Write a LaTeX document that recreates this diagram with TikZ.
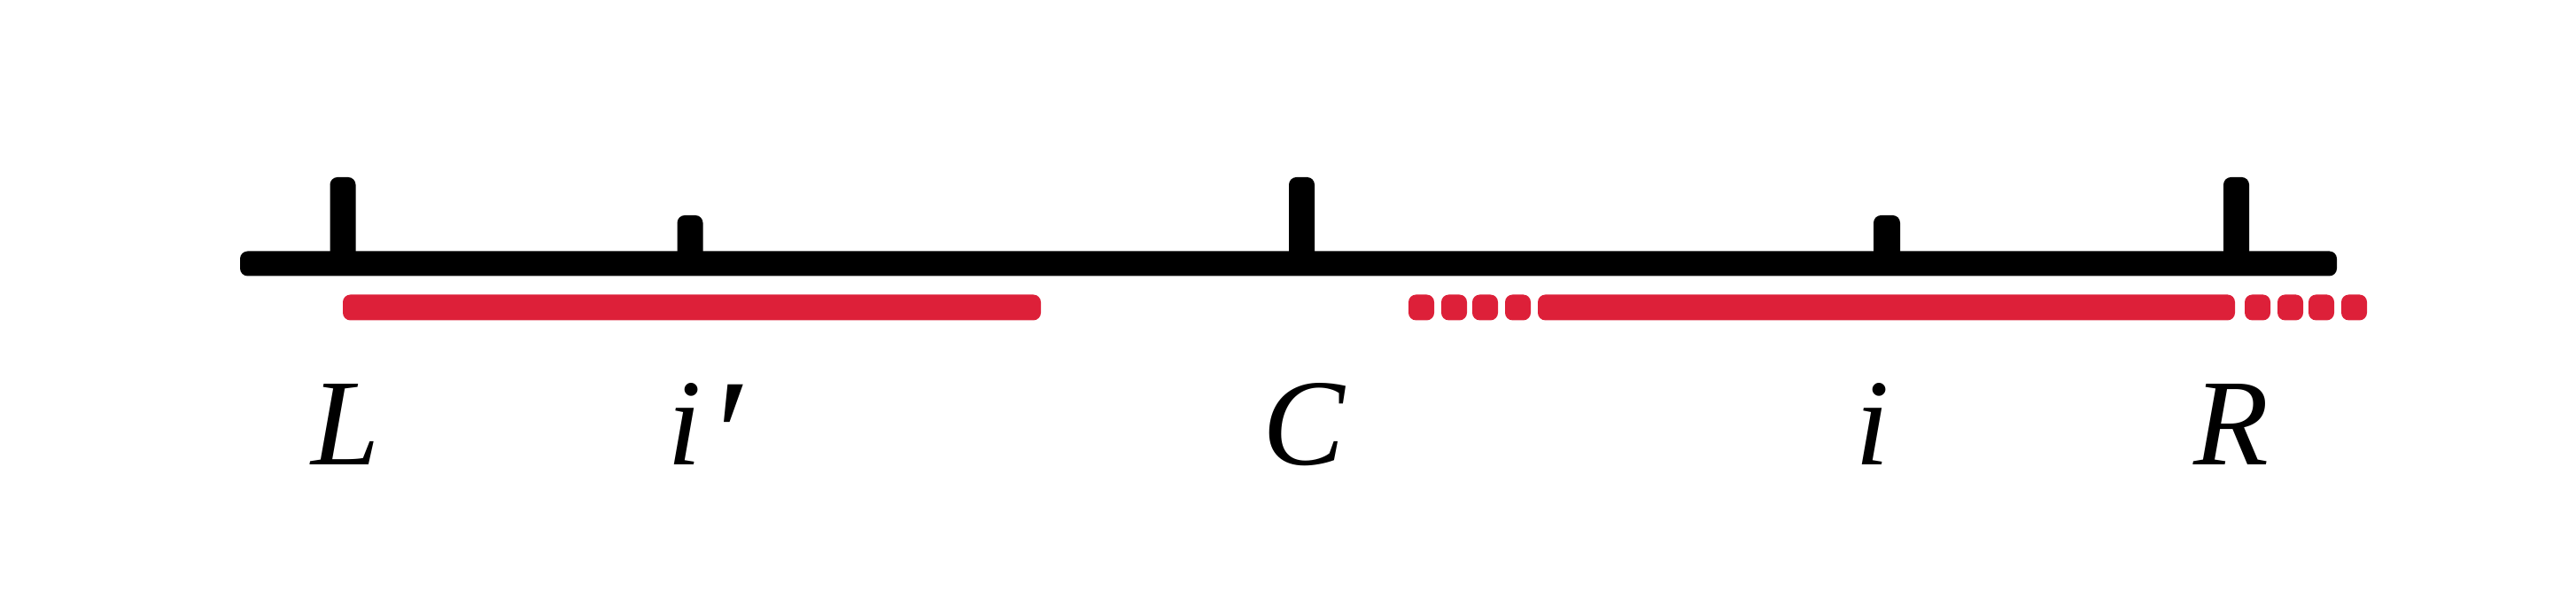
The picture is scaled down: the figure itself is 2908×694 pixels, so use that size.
\documentclass[tikz,border=0pt]{standalone}
\usepackage{fontspec}
\setmainfont{Liberation Serif}[ItalicFont={Liberation Serif Italic}]
\definecolor{barred}{RGB}{221,32,57}
\begin{document}
\begin{tikzpicture}[x=0.1pt,y=-0.1pt,
  blackbar/.style={fill=black,rounded corners=0.85pt},
  redbar/.style={fill=barred,rounded corners=0.85pt},
  lab/.style={anchor=base,inner sep=0pt,font=\fontsize{13.9}{16}\selectfont\itshape}]
\useasboundingbox (0,0) rectangle (2908,694);
% ticks
\fill[blackbar] (372.5,200) rectangle (401.5,300);
\fill[blackbar] (764.5,243) rectangle (793.5,300);
\fill[blackbar] (1455,200) rectangle (1484,300);
\fill[blackbar] (2115,243) rectangle (2145,300);
\fill[blackbar] (2510,200) rectangle (2539,300);
% main line
\fill[blackbar] (271,283.5) rectangle (2638,311.5);
% red segments
\fill[redbar] (387,332.5) rectangle (1175,361.5);
\foreach \a in {1590,1627,1662,1699}
  \fill[redbar] (\a,332.5) rectangle ++(29,29);
\fill[redbar] (1736,332.5) rectangle (2523,361.5);
\foreach \a in {2534,2571,2606,2643}
  \fill[redbar] (\a,332.5) rectangle ++(29,29);
% labels
\node[lab] (L) at (390,525) {L};
\node[lab] (ip) at (795,525) {i\kern0.5pt\raisebox{-2.8pt}{\scalebox{1.3}{′}}};
\node[lab] (C) at (1472,525) {C};
\node[lab] (i) at (2114,525) {i};
\node[lab] (R) at (2519,525) {R};
\end{tikzpicture}
\end{document}
